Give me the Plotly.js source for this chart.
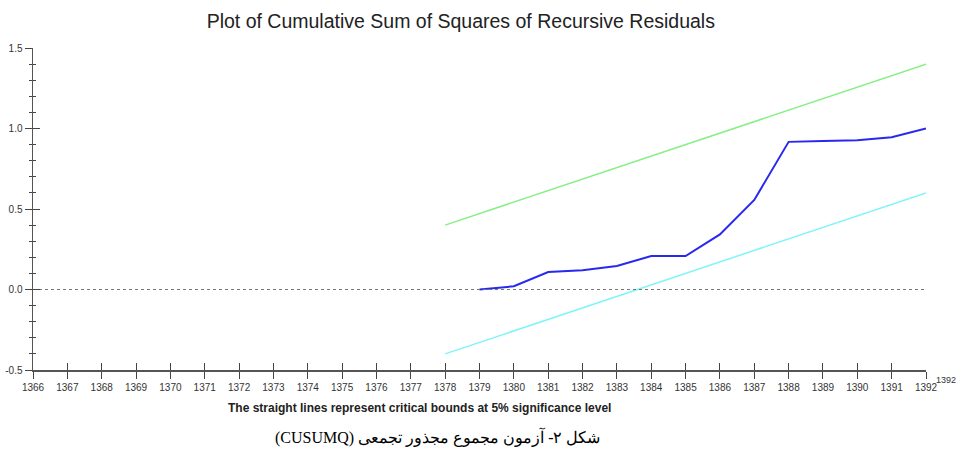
<!DOCTYPE html>
<html><head><meta charset="utf-8">
<script src="https://cdn.plot.ly/plotly-3.0.1.min.js"></script>
<style>html,body{margin:0;padding:0;background:#fff}</style>
</head><body><div id="chart" style="width:958px;height:452px"></div>
<script>
const years = [1379,1380,1381,1382,1383,1384,1385,1386,1387,1388,1389,1390,1391,1392];
const cusumsq = [0.0,0.02,0.108,0.119,0.146,0.208,0.208,0.342,0.556,0.917,0.923,0.927,0.946,1.0];
const boundYears = [1378,1392];
const upperBound = [0.4,1.4];
const lowerBound = [-0.4,0.6];
const zeroYears = [1366,1392];
const zeroVals = [0,0];
const xTicks = [];
for (let y = 1366; y <= 1392; y++) xTicks.push(y);
const yTicks = [-0.5,0.0,0.5,1.0,1.5];
const yTickText = ['-0.5','0.0','0.5','1.0','1.5'];

const traces = [
  {x: zeroYears, y: zeroVals, mode:'lines', line:{color:'#777', width:1, dash:'dot'}, hoverinfo:'skip', xaxis:'x2', yaxis:'y2'},
  {x: boundYears, y: upperBound, mode:'lines', line:{color:'#86f086', width:1.5}},
  {x: boundYears, y: lowerBound, mode:'lines', line:{color:'#80f4f8', width:1.5}},
  {x: years, y: cusumsq, mode:'lines', line:{color:'#2828f0', width:2}}
];
const axFont = {family:'Liberation Sans, Arial, sans-serif', size:10, color:'#333'};
const layout = {
  width:958, height:452,
  margin:{l:33, r:32, t:48, b:82},
  paper_bgcolor:'#fff', plot_bgcolor:'#fff',
  showlegend:false,
  title:{text:'Plot of Cumulative Sum of Squares of Recursive Residuals',
    font:{family:'Liberation Sans, Arial, sans-serif', size:19.5, color:'#222'},
    xref:'container', yref:'container', x:0.481, y:0.954, xanchor:'center', yanchor:'middle'},
  xaxis:{range:[1366,1392], tickvals:xTicks, ticktext:xTicks.map(String), ticks:'outside', ticklen:7, tickwidth:1, tickcolor:'#444',
    showline:true, linecolor:'#555', linewidth:1.5, showgrid:false, zeroline:false, tickfont:axFont, fixedrange:true},
  yaxis:{range:[-0.5,1.5], tickvals:yTicks, ticktext:yTickText, ticks:'outside', ticklen:7, tickwidth:1, tickcolor:'#444',
    minor:{dtick:0.1, ticks:'outside', ticklen:3, tickcolor:'#444', showgrid:false},
    showline:true, linecolor:'#555', linewidth:1.5, showgrid:false, zeroline:false, tickfont:axFont, ticklabelstandoff:0},
  xaxis2:{overlaying:'x', range:[1366,1392], tickvals:xTicks, ticks:'inside', ticklen:7, tickcolor:'#444', showticklabels:false, showgrid:false, zeroline:false, showline:false},
  yaxis2:{overlaying:'y', side:'left', range:[-0.5,1.5], tickvals:yTicks, ticks:'inside', ticklen:7, tickcolor:'#444',
    minor:{dtick:0.1, ticks:'inside', ticklen:3, tickcolor:'#444', showgrid:false},
    showticklabels:false, showgrid:false, zeroline:false, showline:false},
  annotations:[
    {text:'1392', xref:'x', yref:'paper', x:1392, y:0, xanchor:'left', yanchor:'top', xshift:9, yshift:-4, showarrow:false, borderpad:0,
      font:{family:'Liberation Sans, Arial, sans-serif', size:9, color:'#333'}},
    {text:'<b>The straight lines represent critical bounds at 5% significance level</b>', xref:'paper', yref:'paper', x:0.433, y:-0.118,
      xanchor:'center', yanchor:'middle', showarrow:false, font:{family:'Liberation Sans, Arial, sans-serif', size:12, color:'#222'}},
    {text:'\u202Bشکل ۲- آزمون مجموع مجذور تجمعی (CUSUMQ)\u202C', xref:'paper', yref:'paper', x:0.4535, y:-0.208,
      xanchor:'center', yanchor:'middle', showarrow:false, font:{family:'Liberation Serif, Times New Roman, serif', size:16, color:'#000'}}
  ]
};
Plotly.newPlot('chart', traces, layout, {displayModeBar:false, staticPlot:true});
</script></body></html>
